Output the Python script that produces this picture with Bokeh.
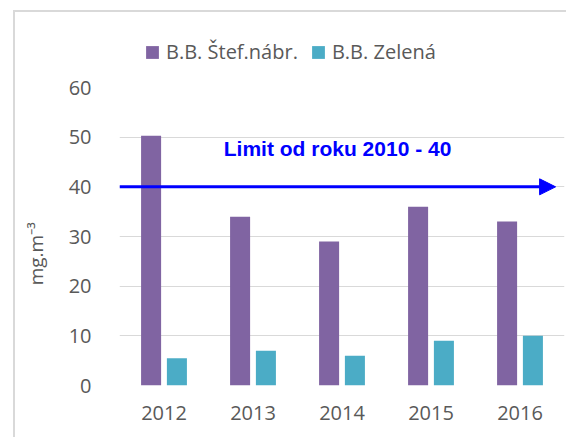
import numpy as np
from bokeh.plotting import figure
from bokeh.layouts import column
from bokeh.models import (Range1d, FixedTicker, Legend, LegendItem, Arrow, NormalHead, Label)
from bokeh.embed import file_html
from bokeh.resources import INLINE

years = ["2012", "2013", "2014", "2015", "2016"]
stef_nabr = [50.3, 34, 29, 36, 33]
zelena = [5.5, 7, 6, 9, 10]
series_names = ["B.B. \u0160tef.n\u00e1br.", "B.B. Zelen\u00e1"]
limit_value = 40
limit_text = "Limit od roku 2010 - 40"
y_label = "mg.m\u207b\u00b3"
y_ticks = [0, 10, 20, 30, 40, 50, 60]

PURPLE = "#8064A2"
CYAN = "#4BACC6"
GREY_TXT = "#595959"
GRID = "#d9d9d9"
FONT = "Open Sans"

xs = np.arange(len(years)) + 0.5

# ---- legend strip (own small figure above the chart) ----
lp = figure(width=551, height=60, output_backend="svg", toolbar_location=None,
            x_range=Range1d(0, len(years)), y_range=Range1d(-100, -90),
            x_axis_location=None, y_axis_location=None, min_border=0)
lp.outline_line_color = None
lp.grid.visible = False
l1 = lp.vbar(x=xs - 0.145, top=stef_nabr, width=0.225, fill_color=PURPLE, line_color=None,
             visible=False)
l2 = lp.vbar(x=xs + 0.145, top=zelena, width=0.225, fill_color=CYAN, line_color=None,
             visible=False)
legend = Legend(items=[LegendItem(label=series_names[0], renderers=[l1]),
                       LegendItem(label=series_names[1], renderers=[l2])],
                location=(25, 7), orientation="horizontal",
                glyph_width=16, glyph_height=16, label_standoff=6, spacing=12,
                padding=0, margin=0, border_line_color=None, background_fill_alpha=0,
                inactive_fill_alpha=0,
                label_text_font=FONT, label_text_font_size="20px", label_text_color=GREY_TXT,
                label_height=20)
lp.add_layout(legend)

# ---- main chart ----
p = figure(width=551, height=365, output_backend="svg", toolbar_location=None,
           x_range=Range1d(0, len(years)), y_range=Range1d(0, 60),
           min_border_left=104, min_border_right=2, min_border_top=15, min_border_bottom=52)
p.outline_line_color = None

p.vbar(x=xs - 0.145, top=stef_nabr, width=0.225, fill_color=PURPLE, line_color=None)
p.vbar(x=xs + 0.145, top=zelena, width=0.225, fill_color=CYAN, line_color=None)

p.xgrid.grid_line_color = None
p.ygrid.grid_line_color = GRID
p.ygrid.grid_line_width = 1
p.ygrid.ticker = FixedTicker(ticks=y_ticks)

p.xaxis.ticker = FixedTicker(ticks=list(xs))
p.xaxis.major_label_overrides = {float(x): y for x, y in zip(xs, years)}
p.yaxis.ticker = FixedTicker(ticks=y_ticks)

for ax in (p.xaxis, p.yaxis):
    ax.axis_line_color = None
    ax.major_tick_line_color = None
    ax.minor_tick_line_color = None
    ax.major_label_text_font = FONT
    ax.major_label_text_font_size = "20px"
    ax.major_label_text_color = GREY_TXT
p.xaxis.major_label_standoff = 14
p.yaxis.major_label_standoff = 22

# trailing no-break spaces move the visible label a little below the frame centre
p.yaxis.axis_label = y_label + "\u00a0" * 7
p.yaxis.axis_label_text_font = FONT
p.yaxis.axis_label_text_font_size = "19px"
p.yaxis.axis_label_text_font_style = "normal"
p.yaxis.axis_label_text_color = GREY_TXT
p.yaxis.axis_label_standoff = 17

arrow = Arrow(x_start=0, y_start=limit_value, x_end=4.9, y_end=limit_value,
              line_color="#0000FF", line_width=3,
              end=NormalHead(size=16, fill_color="#0000FF", line_color="#0000FF"))
p.add_layout(arrow)

lbl = Label(x=2.45, y=limit_value + 7.7, text=limit_text, text_align="center",
            text_baseline="middle", text_font="Liberation Sans", text_font_style="bold",
            text_font_size="21px", text_color="#0000FF")
p.add_layout(lbl)

layout = column(lp, p, spacing=0)
layout.styles = {"border-left": "2px solid #d9d9d9", "border-top": "2px solid #d9d9d9",
                 "margin-left": "13px", "margin-top": "10px"}

open("out.html", "w").write(file_html(layout, INLINE))
